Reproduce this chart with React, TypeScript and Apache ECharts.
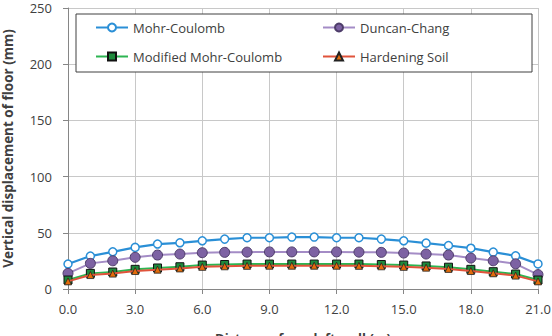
import React, { useEffect, useRef } from "react";
import * as echarts from "echarts";

const distance = [0, 1, 2, 3, 4, 5, 6, 7, 8, 9, 10, 11, 12, 13, 14, 15, 16, 17, 18, 19, 20, 21];
const mohrCoulomb = [22.2, 29.3, 33.1, 37.0, 40.0, 41.1, 42.9, 44.4, 45.6, 45.6, 46.2, 46.2, 45.6, 45.6, 44.4, 42.9, 40.8, 38.7, 36.3, 32.8, 29.5, 22.3];
const duncanChang = [13.9, 22.8, 25.1, 28.2, 30.2, 31.1, 32.3, 32.6, 32.8, 33.0, 33.0, 33.0, 33.0, 32.8, 32.6, 32.0, 31.1, 30.2, 27.5, 25.1, 22.4, 12.8];
const modifiedMC = [8.0, 13.9, 15.1, 17.5, 18.7, 19.8, 21.3, 21.8, 22.2, 22.2, 22.2, 22.2, 22.2, 22.2, 21.8, 21.3, 20.5, 19.4, 17.5, 15.4, 13.3, 8.0];
const hardeningSoil = [6.8, 12.4, 13.7, 16.0, 17.2, 18.3, 19.7, 20.2, 20.6, 20.7, 20.7, 20.7, 20.7, 20.6, 20.2, 19.7, 19.0, 17.9, 16.0, 14.0, 11.9, 6.8];
const yTicks = [0, 50, 100, 150, 200, 250];
const xTicks = [0, 3, 6, 9, 12, 15, 18, 21];

const FONT = "Open Sans";

function pairs(vals: number[]) {
  return distance.map((d, i) => [d, vals[i]]);
}

export default function App() {
  const ref = useRef<HTMLDivElement>(null);
  useEffect(() => {
    if (!ref.current) return;
    const chart = echarts.init(ref.current, null, { renderer: "svg" });
    const legendText = { fontFamily: FONT, fontSize: 13, color: "#404040" };
    chart.setOption({
      animation: false,
      backgroundColor: "#ffffff",
      grid: { left: 68, right: 14, top: 8, bottom: 47, containLabel: false, outerBoundsMode: "none" },
      xAxis: {
        type: "value",
        min: xTicks[0],
        max: xTicks[xTicks.length - 1],
        interval: 3,
        name: "Distance  from left wall (m)",
        nameLocation: "middle",
        nameGap: 42,
        nameTextStyle: { fontFamily: FONT, fontSize: 13, fontWeight: "bold", color: "#404040" },
        axisLine: { show: true, lineStyle: { color: "#868686" } },
        axisTick: { show: true, length: 5, lineStyle: { color: "#868686" } },
        axisLabel: {
          margin: 13,
          fontFamily: FONT,
          fontSize: 13,
          color: "#404040",
          formatter: (v: number) => v.toFixed(1),
        },
        splitLine: { show: true, lineStyle: { color: "#c8c8c8", width: 1 } },
      },
      yAxis: {
        type: "value",
        min: yTicks[0],
        max: yTicks[yTicks.length - 1],
        interval: 50,
        name: "Vertical displacement of floor (mm)",
        nameLocation: "middle",
        nameGap: 53,
        nameTextStyle: { fontFamily: FONT, fontSize: 13.5, fontWeight: "bold", color: "#404040" },
        axisLine: { show: true, lineStyle: { color: "#868686" } },
        axisTick: { show: true, length: 5, lineStyle: { color: "#868686" } },
        axisLabel: { margin: 16, fontFamily: FONT, fontSize: 13, color: "#404040" },
        splitLine: { show: true, lineStyle: { color: "#c8c8c8", width: 1 } },
      },
      graphic: [
        {
          type: "rect",
          shape: { x: 76, y: 14, width: 456, height: 58 },
          style: { fill: "#ffffff", stroke: "#404040", lineWidth: 1 },
          z: 5,
        },
      ],
      legend: [
        {
          data: ["Mohr-Coulomb", "Modified Mohr-Coulomb"],
          orient: "vertical",
          left: 90,
          top: 16,
          itemWidth: 32,
          itemHeight: 10,
          itemGap: 16,
          textStyle: legendText,
          z: 10,
        },
        {
          data: ["Duncan-Chang", "Hardening Soil"],
          orient: "vertical",
          left: 317,
          top: 16,
          itemWidth: 32,
          itemHeight: 10,
          itemGap: 16,
          textStyle: legendText,
          z: 10,
        },
      ],
      series: [
        {
          name: "Mohr-Coulomb",
          type: "line",
          data: pairs(mohrCoulomb),
          symbol: "circle",
          symbolSize: 8,
          lineStyle: { color: "#2a8fd6", width: 2.2 },
          itemStyle: { color: "#ffffff", borderColor: "#2a8fd6", borderWidth: 1.5 },
          z: 2,
        },
        {
          name: "Duncan-Chang",
          type: "line",
          data: pairs(duncanChang),
          symbol: "circle",
          symbolSize: 10,
          lineStyle: { color: "#a48cc6", width: 2 },
          itemStyle: { color: "#7d62a3", borderColor: "#4e3d6a", borderWidth: 1 },
          z: 3,
        },
        {
          name: "Modified Mohr-Coulomb",
          type: "line",
          data: pairs(modifiedMC),
          symbol: "rect",
          symbolSize: 8,
          lineStyle: { color: "#2db552", width: 2 },
          itemStyle: { color: "#1e8a3c", borderColor: "#111111", borderWidth: 1 },
          z: 4,
        },
        {
          name: "Hardening Soil",
          type: "line",
          data: pairs(hardeningSoil),
          symbol: "triangle",
          symbolSize: 7,
          lineStyle: { color: "#e0533b", width: 2 },
          itemStyle: { color: "#e36c0a", borderColor: "#222222", borderWidth: 0.8 },
          z: 5,
        },
      ],
    });
    return () => chart.dispose();
  }, []);
  return <div ref={ref} style={{ width: 552, height: 336, position: "absolute", left: 0, top: 0 }} />;
}
